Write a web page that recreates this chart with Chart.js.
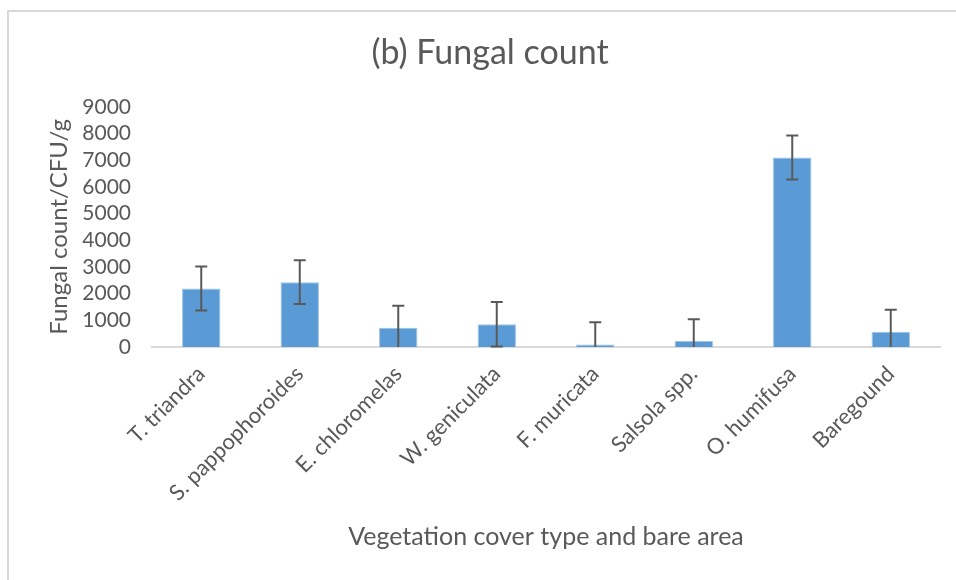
<!DOCTYPE html>
<html>
<head>
<meta charset="utf-8">
<script src="https://cdn.jsdelivr.net/npm/chart.js@4.4.1/dist/chart.umd.min.js"></script>
<style>
    html, body { margin: 0; padding: 0; background: #ffffff; }
    #wrap { position: relative; width: 956px; height: 580px; overflow: hidden; }
    #frame {
        position: absolute; left: 7px; top: 10px; width: 1000px; height: 600px;
        border-left: 2px solid #d9d9d9; border-top: 2px solid #d9d9d9;
    }
    #fungalChart { position: absolute; left: 0; top: 0; }
</style>
</head>
<body>
<div id="wrap">
    <div id="frame"></div>
    <canvas id="fungalChart" width="956" height="580"></canvas>
</div>
<script>
// values
const categories = ['T. triandra', 'S. pappophoroides', 'E. chloromelas', 'W. geniculata',
    'F. muricata', 'Salsola spp.', 'O. humifusa', 'Baregound'];
const fungalMeans = [2190, 2430, 725, 850, 90, 225, 7100, 575];
const fungalErrors = [825, 820, 825, 835, 835, 815, 820, 825];
const yTicks = [0, 1000, 2000, 3000, 4000, 5000, 6000, 7000, 8000, 9000];

const FONT = 'Lato, "Open Sans", sans-serif';
const TEXT_GREY = '#595959';

// draws the +/- error whiskers on top of the bars
const errorBarPlugin = {
    id: 'errorBars',
    afterDatasetsDraw(chart) {
        const ctx = chart.ctx;
        const meta = chart.getDatasetMeta(0);
        const yScale = chart.scales.y;
        ctx.save();
        ctx.strokeStyle = '#595959';
        ctx.lineWidth = 2;
        meta.data.forEach((bar, i) => {
            const x = bar.x;
            const top = yScale.getPixelForValue(fungalMeans[i] + fungalErrors[i]);
            const bottom = yScale.getPixelForValue(Math.max(0, fungalMeans[i] - fungalErrors[i]));
            ctx.beginPath();
            ctx.moveTo(x, top);
            ctx.lineTo(x, bottom);
            ctx.moveTo(x - 6, top);
            ctx.lineTo(x + 6, top);
            if (fungalMeans[i] - fungalErrors[i] > 0) {
                ctx.moveTo(x - 6, bottom);
                ctx.lineTo(x + 6, bottom);
            }
            ctx.stroke();
        });
        ctx.restore();
    }
};

function renderFungalChart() {
    const ctx = document.getElementById('fungalChart').getContext('2d');

    new Chart(ctx, {
        type: 'bar',
        data: {
            labels: categories,
            datasets: [{
                label: 'Fungal count',
                data: fungalMeans,
                backgroundColor: '#5b9bd5',
                borderColor: '#9cc3e8',
                borderWidth: 1,
                barPercentage: 0.39,
                categoryPercentage: 1
            }]
        },
        options: {
            responsive: false,
            animation: false,
            layout: { padding: { left: 40, right: 16, top: 10, bottom: 20 } },
            plugins: {
                legend: { display: false },
                tooltip: { enabled: false },
                title: {
                    display: true,
                    text: '(b) Fungal count',
                    color: TEXT_GREY,
                    font: { family: FONT, size: 34, weight: 'normal' },
                    padding: { top: 23, bottom: 33 }
                }
            },
            scales: {
                x: {
                    grid: { display: false, drawTicks: false },
                    border: { display: true, color: '#d9d9d9', width: 2 },
                    ticks: {
                        color: TEXT_GREY,
                        font: { family: FONT, size: 22 },
                        minRotation: 45,
                        maxRotation: 45,
                        autoSkip: false,
                        padding: 14
                    },
                    title: {
                        display: true,
                        text: 'Vegetation cover type and bare area',
                        color: TEXT_GREY,
                        font: { family: FONT, size: 25 },
                        padding: { top: 4, bottom: 8 }
                    },
                    afterFit(scale) { scale.height = 213; }
                },
                y: {
                    min: 0,
                    max: 9000,
                    grid: { display: false, drawTicks: false },
                    border: { display: false },
                    afterBuildTicks(scale) { scale.ticks = yTicks.map(v => ({ value: v })); },
                    ticks: {
                        color: TEXT_GREY,
                        font: { family: FONT, size: 21 },
                        padding: 21,
                        autoSkip: false,
                        callback: v => String(v)
                    },
                    title: {
                        display: true,
                        text: 'Fungal count/CFU/g',
                        color: TEXT_GREY,
                        font: { family: FONT, size: 24 },
                        padding: { top: 5, bottom: 4 }
                    },
                    afterFit(scale) { scale.width = 112; }
                }
            }
        },
        plugins: [errorBarPlugin]
    });
}

document.addEventListener('DOMContentLoaded', renderFungalChart);
</script>
</body>
</html>
